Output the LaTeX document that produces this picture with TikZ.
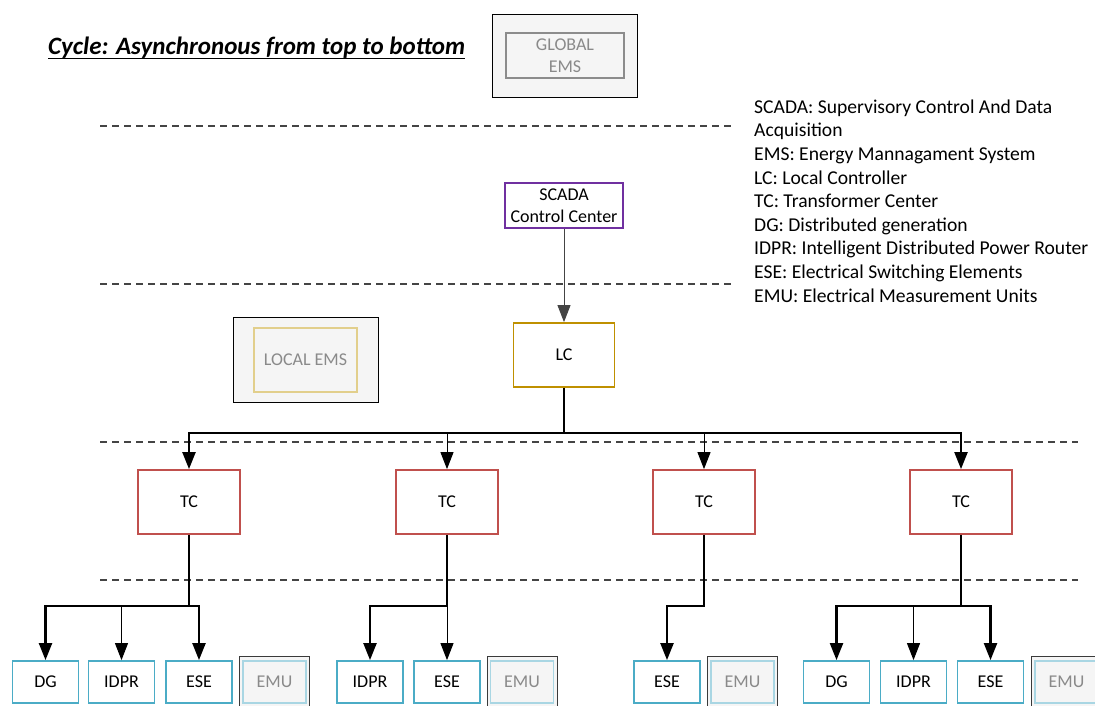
\documentclass[tikz,border=0pt]{standalone}
\usepackage{fontspec}
\setmainfont{Carlito}
\usetikzlibrary{arrows.meta}

\definecolor{scadapurple}{HTML}{7030A0}
\definecolor{lcgold}{HTML}{BF9000}
\definecolor{tcred}{HTML}{C0504D}
\definecolor{childteal}{HTML}{4BACC6}
\definecolor{emuteal}{HTML}{A9D6E3}
\definecolor{frameedge}{HTML}{3A3A3A}
\definecolor{panelgray}{HTML}{F5F5F5}
\definecolor{labelgray}{HTML}{8A8A8A}
\definecolor{globaledge}{HTML}{8C8C8C}
\definecolor{localedge}{HTML}{E2CF8C}
\definecolor{sepgray}{HTML}{444444}

\newcommand\lblfont{\fontsize{18}{22}\selectfont}
\newcommand\legendfont{\fontsize{19.6}{23.6}\selectfont}
\newcommand\headfont{\fontsize{25}{29}\selectfont\bfseries\itshape}

% underlined heading text with a rule at a fixed depth
\newsavebox\headbox
\newcommand\headrule[1]{\sbox\headbox{#1}\rlap{\usebox\headbox}\rule[-5.4pt]{\wd\headbox}{1.8pt}}

\begin{document}
\begin{tikzpicture}[x=1pt,y=-1pt,
  box/.style={draw, line width=1.8pt, fill=white, inner sep=0pt, align=center, font=\lblfont},
  tcbox/.style={box, draw=tcred, minimum width=102, minimum height=64},
  leafbox/.style={box, draw=childteal, minimum width=66, minimum height=42},
  emuframe/.style={draw=frameedge, line width=0.9pt, fill=panelgray, minimum width=70, minimum height=50, inner sep=0pt},
  emubox/.style={box, draw=emuteal, fill=panelgray, text=labelgray, minimum width=63, minimum height=42},
  tip/.style={-{Triangle[width=13pt,length=17pt]}},
  heavy/.style={line width=2.2pt, line join=miter, tip},
  light/.style={line width=1pt, tip},
  sepline/.style={draw=sepgray, line width=1.1pt, dash pattern=on 7pt off 5pt}
]
\useasboundingbox (0,0) rectangle (1095,705);

% title
\node[anchor=base west, inner sep=0pt, font=\headfont] (title) at (48,54)
  {\headrule{Cycle: Asynchronous from top to bottom}};

% global EMS panel
\node[draw=black, line width=0.9pt, fill=panelgray, minimum width=145, minimum height=83, inner sep=0pt] (globalpanel) at (565,55.5) {};
\node[box, draw=globaledge, fill=panelgray, text=labelgray, line width=1.6pt, minimum width=118, minimum height=45] (globalems) at (565,55.5) {GLOBAL\\EMS};

% local EMS panel
\node[draw=black, line width=0.9pt, fill=panelgray, minimum width=145, minimum height=85, inner sep=0pt] (localpanel) at (305.5,359.5) {};
\node[box, draw=localedge, fill=panelgray, text=labelgray, line width=1.6pt, minimum width=103, minimum height=64] (localems) at (305.5,360) {LOCAL EMS};

% level separators
\draw[sepline] (100,126) -- (735,126);
\draw[sepline] (100,284) -- (735,284);
\draw[sepline] (100,442) -- (1078,442);
\draw[sepline] (100,580) -- (1078,580);

% legend
\node[anchor=north west, inner sep=0pt, align=left, font=\legendfont] (legend) at (754,99.5)
  {SCADA: Supervisory Control And Data\\
   Acquisition\\
   EMS: Energy Mannagament System\\
   LC: Local Controller\\
   TC: Transformer Center\\
   DG: Distributed generation\\
   IDPR: Intelligent Distributed Power Router\\
   ESE: Electrical Switching Elements\\
   EMU: Electrical Measurement Units};

% control hierarchy
\node[box, draw=scadapurple, minimum width=118, minimum height=45] (scada) at (564,205.5) {SCADA\\Control Center};
\node[box, draw=lcgold, minimum width=101, minimum height=64] (lc) at (564,355) {LC};

\node[tcbox] (tc1) at (189,502) {TC};
\node[tcbox] (tc2) at (447,502) {TC};
\node[tcbox] (tc3) at (704,502) {TC};
\node[tcbox] (tc4) at (961,502) {TC};

% field devices
\node[leafbox] (dg1)   at (45.5,682)  {DG};
\node[leafbox] (idpr1) at (121.5,682) {IDPR};
\node[leafbox] (ese1)  at (199,682)   {ESE};
\node[emuframe] (emuf1) at (274,681) {};
\node[emubox] (emu1) at (274.5,682) {EMU};

\node[leafbox] (idpr2) at (370,682) {IDPR};
\node[leafbox] (ese2)  at (447,682) {ESE};
\node[emuframe] (emuf2) at (522,681) {};
\node[emubox] (emu2) at (522,682) {EMU};

\node[leafbox] (ese3)  at (667,682) {ESE};
\node[emuframe] (emuf3) at (742,681) {};
\node[emubox] (emu3) at (742.5,682) {EMU};

\node[leafbox] (dg4)   at (836.5,682) {DG};
\node[leafbox] (idpr4) at (913.5,682) {IDPR};
\node[leafbox] (ese4)  at (990.5,682) {ESE};
\node[emuframe] (emuf4) at (1066,681) {};
\node[emubox] (emu4) at (1066.5,682) {EMU};

% bus heights
\coordinate (lcbus) at (0,433);
\coordinate (rowbus) at (0,606);

% SCADA -> LC
\draw[light, draw=sepgray] (scada.south) -- (lc.north);

% LC -> TCs
\draw[heavy] (lc.south) |- (tc1.north |- lcbus) -- (tc1.north);
\draw[heavy] (lc.south) |- (tc4.north |- lcbus) -- (tc4.north);
\draw[light] (tc2.north |- lcbus) -- (tc2.north);
\draw[light] (tc3.north |- lcbus) -- (tc3.north);

% TC 1 -> devices
\draw[heavy] (tc1.south) |- (dg1.north |- rowbus) -- (dg1.north);
\draw[heavy] (tc1.south) |- (ese1.north |- rowbus) -- (ese1.north);
\draw[light] (idpr1.north |- rowbus) -- (idpr1.north);

% TC 2 -> devices
\draw[heavy] (tc2.south) |- (idpr2.north |- rowbus) -- (idpr2.north);
\draw[light] (tc2.south |- rowbus) -- (ese2.north);

% TC 3 -> devices
\draw[heavy] (tc3.south) |- (ese3.north |- rowbus) -- (ese3.north);

% TC 4 -> devices
\draw[heavy] (tc4.south) |- (dg4.north |- rowbus) -- (dg4.north);
\draw[heavy] (tc4.south) |- (ese4.north |- rowbus) -- (ese4.north);
\draw[light] (idpr4.north |- rowbus) -- (idpr4.north);
\end{tikzpicture}
\end{document}
